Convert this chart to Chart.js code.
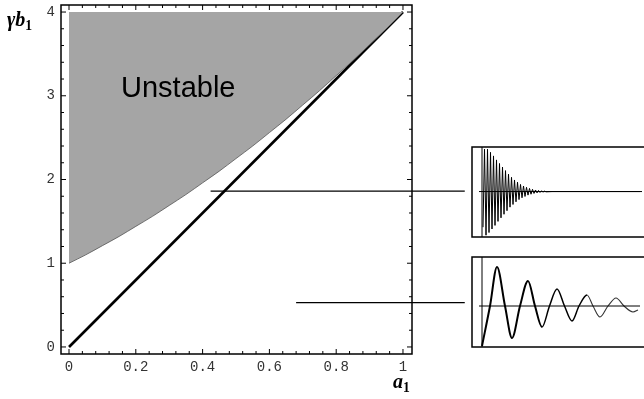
<!DOCTYPE html>
<html>
<head>
<meta charset="utf-8">
<script src="https://cdn.jsdelivr.net/npm/chart.js@4"></script>
<style>
  html, body { margin: 0; padding: 0; background: #fff; overflow: hidden; }
  #wrap { position: relative; width: 644px; height: 399px; }
  canvas { position: absolute; }
  .lbl { position: absolute; white-space: nowrap; color: #000; line-height: 1; }
  .math { font-family: "Liberation Serif", "DejaVu Serif", serif; font-weight: bold; font-style: italic; }
  .math .s { font-size: 0.68em; position: relative; top: 0.28em; font-style: normal; }
</style>
</head>
<body>
<div id="wrap">
  <canvas id="main" width="644" height="399" style="left:0;top:0"></canvas>
  <canvas id="inset1" width="180" height="92" style="left:471px;top:146px"></canvas>
  <canvas id="inset2" width="180" height="92" style="left:471px;top:256px"></canvas>
  <div class="lbl math" style="left:7px;top:9px;font-size:20px">γb<span class="s">1</span></div>
  <div class="lbl math" style="left:393px;top:371px;font-size:20px">a<span class="s">1</span></div>
  <div class="lbl" style="left:121px;top:73px;font-size:29px;font-family:'Liberation Sans',Arial,sans-serif">Unstable</div>
</div>
<script>
// main plot data
const a1Values = [0, 0.05, 0.1, 0.15, 0.2, 0.25, 0.3, 0.35, 0.4, 0.45, 0.5,
                  0.55, 0.6, 0.65, 0.7, 0.75, 0.8, 0.85, 0.9, 0.95, 1];
const boundaryValues = [1.00, 1.10, 1.21, 1.32, 1.44, 1.56, 1.69, 1.82, 1.96, 2.10, 2.25,
                        2.40, 2.56, 2.72, 2.89, 3.06, 3.24, 3.42, 3.61, 3.80, 4.00];
const diagonalX = [0, 1];
const diagonalY = [0, 4];
const upperMarkerX = [0.424, 1.185];
const upperMarkerY = [1.86, 1.86];
const lowerMarkerX = [0.68, 1.185];
const lowerMarkerY = [0.53, 0.53];

const xMajorTicks = [0, 0.2, 0.4, 0.6, 0.8, 1];
const xMinorTicks = [0.04, 0.08, 0.12, 0.16, 0.24, 0.28, 0.32, 0.36, 0.44, 0.48, 0.52, 0.56,
                     0.64, 0.68, 0.72, 0.76, 0.84, 0.88, 0.92, 0.96];
const yMajorTicks = [0, 1, 2, 3, 4];
const yMinorTicks = [0.2, 0.4, 0.6, 0.8, 1.2, 1.4, 1.6, 1.8, 2.2, 2.4, 2.6, 2.8,
                     3.2, 3.4, 3.6, 3.8];

// inset 1: fast decaying oscillation
const fastTimes = [1, 2.5, 4, 5.5, 7, 8.5, 10, 11.5, 13, 14.5, 16, 17.5, 19, 20.5, 22, 23.5,
                   25, 26.5, 28, 29.5, 31, 32.5, 34, 35.5, 37, 38.5, 40, 41.5, 43, 44.5,
                   46, 47.5, 49, 50.5, 52, 53.5, 55, 56.5, 58, 59.5, 61, 62.5, 64, 70, 160];
const fastValues = [-0.8, 0.95, -0.98, 0.95, -0.92, 0.88, -0.84, 0.8, -0.76, 0.71,
                    -0.67, 0.63, -0.59, 0.55, -0.51, 0.47, -0.43, 0.39, -0.35, 0.32,
                    -0.29, 0.26, -0.23, 0.21, -0.18, 0.16, -0.14, 0.125, -0.11, 0.095,
                    -0.08, 0.07, -0.06, 0.05, -0.042, 0.035, -0.03, 0.025, -0.02, 0.016,
                    -0.012, 0.009, -0.006, 0, 0];

// inset 2: slow decaying oscillation
const slowTimes = [0, 8, 15, 23, 30, 38, 46, 53, 60, 67.5, 75, 82.5, 90, 97, 105, 111,
                   118, 126, 134, 142, 151, 156];
const slowValues = [-1.0, 0, 0.975, 0, -0.8, 0, 0.625, 0, -0.525, 0, 0.425, 0, -0.375, 0,
                    0.275, 0, -0.275, 0, 0.2, 0, -0.15, -0.1];

const toPoints = (xs, ys) => xs.map((x, i) => ({ x: x, y: ys[i] }));

// frame and inward tick marks, Mathematica style
const frameTicks = {
  id: 'frameTicks',
  afterDraw(chart) {
    const { ctx, chartArea: a, scales } = chart;
    ctx.save();
    ctx.strokeStyle = '#000';
    ctx.lineWidth = 1;
    const tick = (px, len, horizontal) => {
      ctx.beginPath();
      if (horizontal) {
        ctx.moveTo(px, a.bottom); ctx.lineTo(px, a.bottom - len);
        ctx.moveTo(px, a.top); ctx.lineTo(px, a.top + len);
      } else {
        ctx.moveTo(a.left, px); ctx.lineTo(a.left + len, px);
        ctx.moveTo(a.right, px); ctx.lineTo(a.right - len, px);
      }
      ctx.stroke();
    };
    xMajorTicks.forEach(v => tick(scales.x.getPixelForValue(v), 5, true));
    xMinorTicks.forEach(v => tick(scales.x.getPixelForValue(v), 3, true));
    yMajorTicks.forEach(v => tick(scales.y.getPixelForValue(v), 5, false));
    yMinorTicks.forEach(v => tick(scales.y.getPixelForValue(v), 3, false));
    ctx.lineWidth = 1.5;
    ctx.strokeRect(a.left, a.top, a.right - a.left, a.bottom - a.top);
    ctx.restore();
  }
};

const boxFrame = {
  id: 'boxFrame',
  afterDraw(chart) {
    const { ctx, chartArea: a } = chart;
    ctx.save();
    ctx.strokeStyle = '#000';
    ctx.lineWidth = 1.5;
    ctx.strokeRect(a.left, a.top, a.right - a.left, a.bottom - a.top);
    ctx.restore();
  }
};

new Chart(document.getElementById('main'), {
  type: 'line',
  data: {
    datasets: [
      {
        data: toPoints(a1Values, boundaryValues),
        borderColor: '#555',
        borderWidth: 0.8,
        backgroundColor: '#a5a5a5',
        fill: { value: 4 },
        cubicInterpolationMode: 'monotone',
        pointRadius: 0
      },
      {
        data: toPoints(diagonalX, diagonalY),
        borderColor: '#000',
        borderWidth: 2.6,
        pointRadius: 0
      },
      {
        data: toPoints(upperMarkerX, upperMarkerY),
        borderColor: '#000',
        borderWidth: 1.3,
        pointRadius: 0,
        clip: false
      },
      {
        data: toPoints(lowerMarkerX, lowerMarkerY),
        borderColor: '#000',
        borderWidth: 1.3,
        pointRadius: 0,
        clip: false
      }
    ]
  },
  options: {
    responsive: false,
    animation: false,
    devicePixelRatio: 1,
    layout: { padding: { left: 0, top: 5, right: 232, bottom: 0 } },
    plugins: { legend: { display: false }, tooltip: { enabled: false } },
    scales: {
      x: {
        type: 'linear',
        min: -0.024,
        max: 1.027,
        afterBuildTicks: s => { s.ticks = xMajorTicks.map(v => ({ value: v })); },
        afterFit: s => { s.height = 45; s.paddingLeft = 0; s.paddingRight = 0; },
        grid: { display: false, drawTicks: false },
        border: { display: false },
        ticks: {
          autoSkip: false,
          maxRotation: 0,
          padding: 5,
          color: '#333',
          font: { family: 'Liberation Mono', size: 14 },
          callback: v => String(v)
        }
      },
      y: {
        type: 'linear',
        min: -0.084,
        max: 4.084,
        afterBuildTicks: s => { s.ticks = yMajorTicks.map(v => ({ value: v })); },
        afterFit: s => { s.width = 61; s.paddingTop = 0; s.paddingBottom = 0; },
        grid: { display: false, drawTicks: false },
        border: { display: false },
        ticks: {
          padding: 6,
          color: '#333',
          font: { family: 'Liberation Mono', size: 14 },
          callback: v => String(v)
        }
      }
    }
  },
  plugins: [frameTicks]
});

function insetChart(id, times, values, yMin, yMax, lineOpts) {
  return new Chart(document.getElementById(id), {
    type: 'line',
    data: {
      datasets: [
        {
          data: [{ x: 0, y: yMin }, { x: 0, y: yMax }],
          borderColor: '#000',
          borderWidth: 1,
          pointRadius: 0
        },
        {
          data: [{ x: -3, y: 0 }, { x: 158, y: 0 }],
          borderColor: '#000',
          borderWidth: 1,
          pointRadius: 0
        },
        Object.assign({
          data: toPoints(times, values),
          borderColor: '#000',
          pointRadius: 0
        }, lineOpts)
      ]
    },
    options: {
      responsive: false,
      animation: false,
      devicePixelRatio: 1,
      layout: { padding: 1 },
      plugins: { legend: { display: false }, tooltip: { enabled: false } },
      scales: {
        x: { type: 'linear', min: -10, max: 168, display: false },
        y: { type: 'linear', min: yMin, max: yMax, display: false }
      }
    },
    plugins: [boxFrame]
  });
}

insetChart('inset1', fastTimes, fastValues, -1.02, 1.0, { borderWidth: 1 });
insetChart('inset2', slowTimes, slowValues, -1.025, 1.225, {
  borderWidth: 1.6,
  cubicInterpolationMode: 'monotone',
  segment: {
    borderWidth: c => (c.p0DataIndex < 8 ? 2 : c.p0DataIndex < 14 ? 1.5 : 1.1),
    borderColor: c => (c.p0DataIndex < 14 ? '#000' : '#333')
  }
});
</script>
</body>
</html>
